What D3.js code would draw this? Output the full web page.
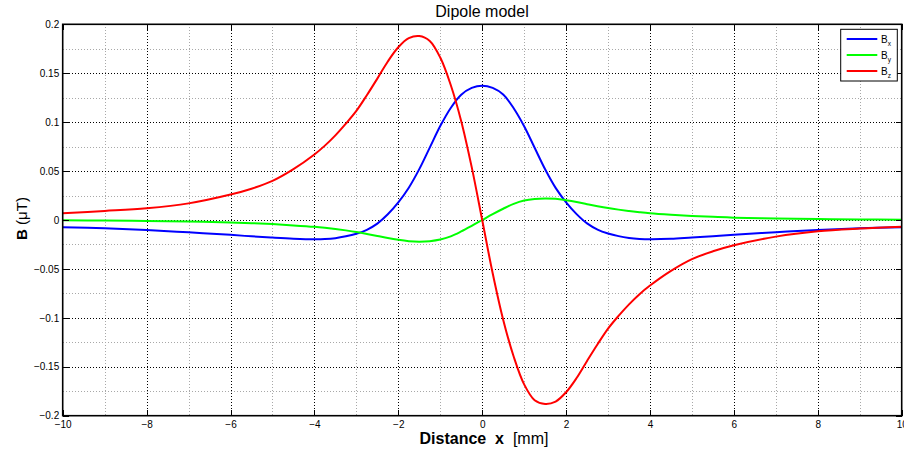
<!DOCTYPE html>
<html>
<head>
<meta charset="utf-8">
<script src="https://cdn.jsdelivr.net/npm/d3@7"></script>
<style>
  body { margin: 0; background: #fff; }
  svg { display: block; }
  text { font-family: "Liberation Sans", Arial, Helvetica, sans-serif; fill: #000; }
</style>
</head>
<body>
<svg id="chart" width="904" height="452"></svg>
<script>
// values (distance in mm, field in µT)
const distance = [-10, -9, -8, -7, -6, -5.5, -5, -4.5,
  -4, -3.75, -3.5, -3.25, -3, -2.75, -2.5, -2.25, -2, -1.75, -1.5, -1.25, -1, -0.75, -0.5, -0.25,
  0, 0.25, 0.5, 0.75, 1, 1.25, 1.5, 1.75, 2, 2.25, 2.5, 2.75, 3, 3.25, 3.5, 3.75, 4,
  4.5, 5, 5.5, 6, 7, 8, 9, 10];

const bxValues = [-0.0075, -0.0085, -0.0102, -0.0126, -0.0152, -0.0167, -0.0180, -0.0191,
  -0.0197, -0.0195, -0.0186, -0.0167, -0.0140, -0.0100, -0.0037, 0.0058, 0.0180, 0.0330, 0.0520, 0.0740, 0.0960, 0.1145, 0.1280, 0.1350,
  0.1373, 0.1350, 0.1282, 0.1142, 0.0958, 0.0738, 0.0518, 0.0328, 0.0180, 0.0060, -0.0035, -0.0098, -0.0138, -0.0165, -0.0183, -0.0193, -0.0197,
  -0.0192, -0.0178, -0.0165, -0.0150, -0.0125, -0.0102, -0.0085, -0.0075];

const byValues = [-0.0003, -0.0006, -0.0010, -0.0016, -0.0025, -0.0032, -0.0042, -0.0055,
  -0.0070, -0.0080, -0.0092, -0.0106, -0.0122, -0.0142, -0.0163, -0.0185, -0.0203, -0.0216, -0.0221, -0.0216, -0.0200, -0.0167, -0.0117, -0.0060,
  0.0000, 0.0060, 0.0115, 0.0165, 0.0199, 0.0215, 0.0220, 0.0216, 0.0202, 0.0184, 0.0162, 0.0141, 0.0122, 0.0106, 0.0092, 0.0079, 0.0068,
  0.0053, 0.0041, 0.0032, 0.0024, 0.0016, 0.0010, 0.0006, 0.0003];

const bzValues = [0.0068, 0.0092, 0.0120, 0.0170, 0.0260, 0.0320, 0.0400, 0.0520,
  0.0670, 0.0760, 0.0865, 0.0985, 0.1115, 0.1275, 0.1445, 0.1620, 0.1765, 0.1858, 0.1880, 0.1830, 0.1660, 0.1380, 0.1010, 0.0540,
  0.0000, -0.0545, -0.1020, -0.1395, -0.1680, -0.1842, -0.1880, -0.1856, -0.1760, -0.1615, -0.1440, -0.1270, -0.1110, -0.0980, -0.0862, -0.0758, -0.0670,
  -0.0520, -0.0400, -0.0320, -0.0258, -0.0170, -0.0115, -0.0087, -0.0068];

const seriesNames = ["x", "y", "z"];
const seriesColors = ["#0000ff", "#00ff00", "#ff0000"];

const xTicks = [-10, -8, -6, -4, -2, 0, 2, 4, 6, 8, 10];
const xTickLabels = ["\u221210", "\u22128", "\u22126", "\u22124", "\u22122", "0", "2", "4", "6", "8", "10"];
const xMinor = [-9, -7, -5, -3, -1, 1, 3, 5, 7, 9];
const yTicks = [-0.2, -0.15, -0.1, -0.05, 0, 0.05, 0.1, 0.15, 0.2];
const yTickLabels = ["\u22120.2", "\u22120.15", "\u22120.1", "\u22120.05", "0", "0.05", "0.1", "0.15", "0.2"];
const yMinor = [-0.175, -0.125, -0.075, -0.025, 0.025, 0.075, 0.125, 0.175];

const svg = d3.select("#chart");
const plot = { left: 62.7, right: 901.7, top: 24.3, bottom: 415.7 };

const x = d3.scaleLinear().domain([-10, 10]).range([plot.left, plot.right]);
const y = d3.scaleLinear().domain([-0.2, 0.2]).range([plot.bottom, plot.top]);
// snap hairlines to the pixel grid so the dotted grid stays crisp
const px = v => Math.round(v) + 0.5;

svg.append("defs").append("clipPath").attr("id", "plot-clip")
  .append("rect")
  .attr("x", plot.left).attr("y", plot.top)
  .attr("width", plot.right - plot.left).attr("height", plot.bottom - plot.top);

// grid: light minor lines first, then the darker major ones
const grid = svg.append("g").attr("shape-rendering", "crispEdges");
grid.selectAll("line.vminor").data(xMinor).join("line")
  .attr("x1", d => px(x(d))).attr("x2", d => px(x(d))).attr("y1", plot.top).attr("y2", plot.bottom)
  .attr("stroke", "#a8a8a8").attr("stroke-width", 1).attr("stroke-dasharray", "1,2");
grid.selectAll("line.hminor").data(yMinor).join("line")
  .attr("y1", d => px(y(d))).attr("y2", d => px(y(d))).attr("x1", plot.left).attr("x2", plot.right)
  .attr("stroke", "#a8a8a8").attr("stroke-width", 1).attr("stroke-dasharray", "1,2");
grid.selectAll("line.vmajor").data(xTicks.slice(1, -1)).join("line")
  .attr("x1", d => px(x(d))).attr("x2", d => px(x(d))).attr("y1", plot.top).attr("y2", plot.bottom)
  .attr("stroke", "#000").attr("stroke-width", 1).attr("stroke-dasharray", "1,2");
grid.selectAll("line.hmajor").data(yTicks.slice(1, -1)).join("line")
  .attr("y1", d => px(y(d))).attr("y2", d => px(y(d))).attr("x1", plot.left).attr("x2", plot.right)
  .attr("stroke", "#000").attr("stroke-width", 1).attr("stroke-dasharray", "1,2");

// curves
const line = d3.line().x(d => x(d[0])).y(d => y(d[1])).curve(d3.curveCatmullRom.alpha(0.5));
const seriesValues = [bxValues, byValues, bzValues];
svg.append("g").attr("clip-path", "url(#plot-clip)")
  .selectAll("path")
  .data(seriesValues)
  .join("path")
  .attr("fill", "none")
  .attr("stroke", (d, i) => seriesColors[i])
  .attr("stroke-width", 2)
  .attr("stroke-linejoin", "round")
  .attr("d", vals => line(distance.map((xv, i) => [xv, vals[i]])));

// axes with inward ticks
const fmtX = d => xTickLabels[xTicks.indexOf(d)];
const fmtY = d => yTickLabels[yTicks.indexOf(d)];

const axisB = svg.append("g").attr("transform", `translate(0,${plot.bottom})`)
  .call(d3.axisBottom(x).tickValues(xTicks).tickFormat(fmtX).tickSize(-6).tickPadding(5));
const axisT = svg.append("g").attr("transform", `translate(0,${plot.top})`)
  .call(d3.axisTop(x).tickValues(xTicks).tickFormat("").tickSize(-6));
const axisL = svg.append("g").attr("transform", `translate(${plot.left},0)`)
  .call(d3.axisLeft(y).tickValues(yTicks).tickFormat(fmtY).tickSize(-6).tickPadding(3.5));
const axisR = svg.append("g").attr("transform", `translate(${plot.right},0)`)
  .call(d3.axisRight(y).tickValues(yTicks).tickFormat("").tickSize(-6));

[axisB, axisT, axisL, axisR].forEach(a => {
  a.select(".domain").remove();
  a.selectAll(".tick line").attr("stroke", "#000").attr("stroke-width", 1).attr("shape-rendering", "crispEdges");
  a.selectAll(".tick text").attr("font-family", "Liberation Sans, Arial, sans-serif").attr("font-size", 10);
});

svg.append("rect")
  .attr("x", plot.left).attr("y", plot.top)
  .attr("width", plot.right - plot.left).attr("height", plot.bottom - plot.top)
  .attr("fill", "none").attr("stroke", "#000").attr("stroke-width", 1.6);

// title and axis labels
svg.append("text").attr("x", 482).attr("y", 16.5).attr("text-anchor", "middle")
  .attr("font-size", 16).text("Dipole model");

const xLabel = svg.append("text").attr("x", 484).attr("y", 443.5).attr("text-anchor", "middle")
  .attr("font-size", 16).style("white-space", "pre");
xLabel.append("tspan").attr("font-weight", "bold").text("Distance  x");
xLabel.append("tspan").text("  [mm]");

const yLabel = svg.append("text").attr("transform", "translate(26.5,218.5) rotate(-90)")
  .attr("text-anchor", "middle").attr("font-size", 15).style("white-space", "pre");
yLabel.append("tspan").attr("font-weight", "bold").text("B");
yLabel.append("tspan").text(" (\u03bcT)");

// legend
const legend = svg.append("g");
legend.append("rect")
  .attr("x", 840.7).attr("y", 29.3).attr("width", 56.6).attr("height", 51.7)
  .attr("fill", "#fff").attr("stroke", "#000").attr("stroke-width", 1);
const legendY = d3.scalePoint().domain(seriesNames).range([39, 71]);
const entries = legend.selectAll("g.entry").data(seriesNames).join("g")
  .attr("transform", d => `translate(0,${legendY(d)})`);
entries.append("line")
  .attr("x1", 846.7).attr("x2", 877.3).attr("y1", 0).attr("y2", 0)
  .attr("stroke", (d, i) => seriesColors[i]).attr("stroke-width", 2);
const lt = entries.append("text").attr("x", 881).attr("y", 3.5).attr("font-size", 10);
lt.append("tspan").text("B");
lt.append("tspan").attr("font-size", 6.5).attr("dy", 3).text(d => d);
</script>
</body>
</html>
